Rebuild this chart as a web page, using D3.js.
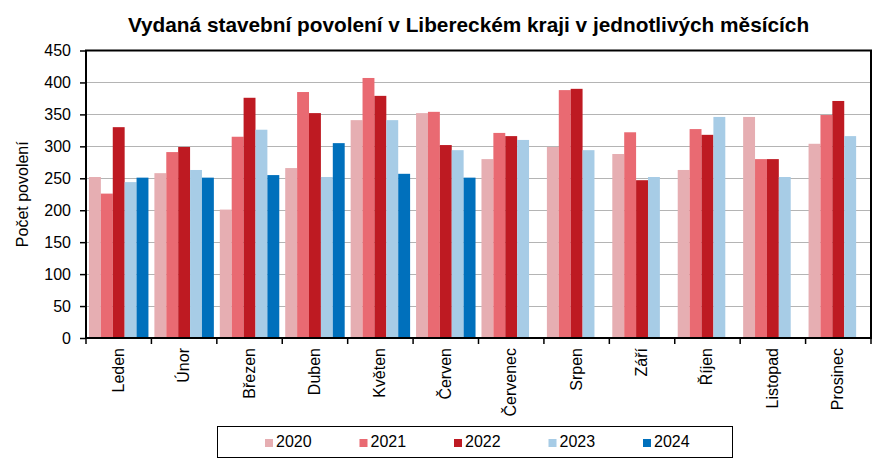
<!DOCTYPE html>
<html><head><meta charset="utf-8">
<script src="https://cdn.jsdelivr.net/npm/d3@7"></script>
<style>body{margin:0;background:#fff}svg{display:block;font-family:"Liberation Sans",Arial,sans-serif}</style>
</head><body><svg id="c" width="883" height="466"></svg>
<script>
const months = ["Leden","Únor","Březen","Duben","Květen","Červen","Červenec","Srpen","Září","Říjen","Listopad","Prosinec"];
const years = ["2020","2021","2022","2023","2024"];
const v2020 = [252,258,201,266,341,352,280,299,288,263,346,304];
const v2021 = [226,291,315,385,407,354,321,388,322,327,280,349];
const v2022 = [330,299,376,352,379,302,316,390,247,318,280,371];
const v2023 = [244,263,326,252,341,294,310,294,252,346,252,316];
const v2024 = [251,251,255,305,257,251,null,null,null,null,null,null];
const yTicks = [0,50,100,150,200,250,300,350,400,450];
const colors = ["#e6aeb2","#e96a72","#be1a22","#a7cce6","#0070bc"];
const title = "Vydaná stavební povolení v Libereckém kraji v jednotlivých měsících";
const yTitle = "Počet povolení";

const series = [v2020,v2021,v2022,v2023,v2024];
const svg = d3.select("#c");
const L = 86, R = 871, T = 50.5, B = 338;
const x = d3.scaleBand().domain(months).range([L,R]).paddingInner(0).paddingOuter(0);
const xs = d3.scaleBand().domain(years).range([0,x.bandwidth()]).paddingOuter(0.25).paddingInner(0);
const y = d3.scaleLinear().domain([0,450]).range([B,T]);

// gridlines
svg.append("g").selectAll("line").data(yTicks.filter(t=>t>0&&t<450)).join("line")
  .attr("x1",L).attr("x2",R).attr("y1",d=>Math.round(y(d))+0.5).attr("y2",d=>Math.round(y(d))+0.5)
  .attr("stroke","#b4b4b4").attr("stroke-width",1);

// bars
const rows = [];
months.forEach((m,i)=>years.forEach((yr,j)=>{ if(series[j][i]!=null) rows.push({m,yr,v:series[j][i],c:colors[j]}); }));
svg.append("g").selectAll("rect").data(rows).join("rect")
  .attr("x",d=>x(d.m)+xs(d.yr)).attr("width",xs.bandwidth())
  .attr("y",d=>y(d.v)).attr("height",d=>B-y(d.v)).attr("fill",d=>d.c);

// frame
svg.append("rect").attr("x",L).attr("y",T).attr("width",R-L).attr("height",B-T)
  .attr("fill","none").attr("stroke","#000").attr("stroke-width",2);

// y axis
const ya = svg.append("g").attr("transform",`translate(${L},0)`)
  .call(d3.axisLeft(y).tickValues(yTicks).tickSize(6).tickPadding(9).tickFormat(d3.format("d")));
ya.select(".domain").remove();
ya.selectAll("line").attr("stroke","#000").attr("stroke-width",1.5);
ya.selectAll("text").attr("font-size","16px").attr("font-family","Liberation Sans, Arial, sans-serif").attr("fill","#000");

// x axis ticks at boundaries
const xb = months.map(m=>x(m)).concat([R]);
svg.append("g").selectAll("line").data(xb).join("line")
  .attr("x1",d=>d).attr("x2",d=>d).attr("y1",B).attr("y2",B+6).attr("stroke","#000").attr("stroke-width",1.5);
svg.append("g").selectAll("text").data(months).join("text")
  .attr("transform",d=>`translate(${x(d)+x.bandwidth()/2+5},${B+10}) rotate(-90)`)
  .attr("text-anchor","end").attr("font-size","16px").attr("fill","#000").text(d=>d);

// title
svg.append("text").attr("x",468.5).attr("y",32).attr("text-anchor","middle")
  .attr("font-size","20.8px").attr("font-weight","bold").attr("fill","#000").text(title);

// y title
svg.append("text").attr("transform",`translate(28,${(T+B)/2}) rotate(-90)`)
  .attr("text-anchor","middle").attr("font-size","16px").attr("fill","#000").text(yTitle);

// legend
svg.append("rect").attr("x",217.5).attr("y",426.5).attr("width",515).attr("height",31)
  .attr("fill","#fff").attr("stroke","#000").attr("stroke-width",1);
const lg = svg.append("g").selectAll("g").data(years).join("g")
  .attr("transform",(d,i)=>`translate(${265+i*94.5},447)`);
lg.append("rect").attr("x",0).attr("y",-8).attr("width",8).attr("height",8).attr("fill",(d,i)=>colors[i]);
lg.append("text").attr("x",11).attr("y",0).attr("font-size","16px").attr("fill","#000").text(d=>d);
</script></body></html>
